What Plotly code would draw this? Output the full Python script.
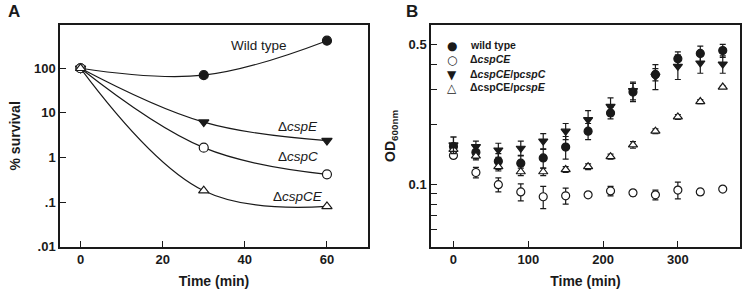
import numpy as np
import plotly.graph_objects as go

# Panel A: survival after cold shock
time_a = [0, 30, 60]
wild_type_a = [100, 70, 415]
csp_e_a = [100, 6.2, 2.4]
csp_c_a = [100, 1.66, 0.42]
csp_ce_a = [100, 0.18, 0.08]

# Panel B: growth (OD600) at low temperature
time_b = [0, 30, 60, 90, 120, 150, 180, 210, 240, 270, 300, 330, 360]
wt_b = [0.155, 0.145, 0.131, 0.128, 0.136, 0.154, 0.185, 0.228, 0.290, 0.355, 0.425, 0.452, 0.467]
wt_err = [0.018, 0.010, 0.012, 0.012, 0.015, 0.020, 0.017, 0.015, 0.030, 0.025, 0.035, 0.040, 0.035]
ce_b = [0.140, 0.115, 0.100, 0.092, 0.087, 0.088, 0.089, 0.093, 0.091, 0.089, 0.094, 0.092, 0.095]
ce_err = [0.004, 0.007, 0.008, 0.009, 0.011, 0.008, 0.002, 0.005, 0.003, 0.005, 0.009, 0.003, 0.002]
pc_b = [0.158, 0.155, 0.149, 0.152, 0.165, 0.185, 0.211, 0.246, 0.295, 0.348, 0.390, 0.405, 0.400]
pc_err = [0.015, 0.010, 0.012, 0.013, 0.015, 0.017, 0.023, 0.025, 0.030, 0.050, 0.055, 0.045, 0.040]
pe_b = [0.150, 0.139, 0.123, 0.116, 0.116, 0.119, 0.123, 0.138, 0.158, 0.185, 0.218, 0.260, 0.307]
pe_err = [0.005, 0.006, 0.006, 0.005, 0.005, 0.004, 0.004, 0.004, 0.006, 0.005, 0.006, 0.006, 0.004]

INK = "#1a1a1a"
FONT = "Liberation Sans"

fig = go.Figure()

# ---- panel A
series_a = [
    (wild_type_a, "circle", INK),
    (csp_e_a, "triangle-down", INK),
    (csp_c_a, "circle", "white"),
    (csp_ce_a, "triangle-up", "white"),
]
for ys, sym, fill in series_a:
    fig.add_trace(go.Scatter(
        x=time_a, y=ys, mode="lines+markers", xaxis="x", yaxis="y",
        line=dict(color=INK, width=1.2, shape="spline", smoothing=1.1),
        marker=dict(symbol=sym, size=9, color=fill, line=dict(color=INK, width=1.2)),
        showlegend=False,
    ))

# ---- panel B
series_b = [
    (wt_b, wt_err, "circle", INK),
    (pe_b, pe_err, "triangle-up", "white"),
    (ce_b, ce_err, "circle", "white"),
    (pc_b, pc_err, "triangle-down", INK),
]
for ys, err, sym, fill in series_b:
    fig.add_trace(go.Scatter(
        x=time_b, y=ys, mode="markers", xaxis="x2", yaxis="y2",
        error_y=dict(type="data", array=err, color=INK, thickness=1.2, width=3),
        marker=dict(symbol=sym, size=8, color=fill, line=dict(color=INK, width=1.2)),
        showlegend=False,
    ))

axis_common = dict(
    showline=True, mirror=True, linecolor=INK, linewidth=1.5,
    ticks="inside", ticklen=6, tickwidth=1.2, tickcolor=INK,
    showgrid=False, zeroline=False, automargin=False,
    tickfont=dict(family=FONT, size=13, color=INK, weight="bold"),
)
title_font = dict(family=FONT, size=14, color=INK, weight="bold")

fig.update_layout(
    width=750, height=290,
    margin=dict(l=0, r=0, t=0, b=0, autoexpand=False),
    paper_bgcolor="white", plot_bgcolor="white",
    xaxis=dict(axis_common, domain=[0.08, 0.4907], range=[-5, 70],
               tickvals=[0, 20, 40, 60],
               title=dict(text="Time (min)", font=title_font, standoff=10)),
    yaxis=dict(axis_common, domain=[0.1493, 0.9138], type="log", range=[-2, 2.97],
               tickvals=[0.01, 0.1, 1, 10, 100], ticktext=[".01", ".1", "1", "10", "100"],
               title=dict(text="% survival", font=title_font, standoff=10)),
    xaxis2=dict(axis_common, domain=[0.5747, 0.9866], range=[-30, 383], anchor="y2",
                tickvals=[0, 100, 200, 300],
                title=dict(text="Time (min)", font=title_font, standoff=10)),
    yaxis2=dict(axis_common, domain=[0.1493, 0.9138], type="log", anchor="x2",
                range=[np.log10(0.049), np.log10(0.627)],
                tickvals=[0.1, 0.5], ticktext=["0.1", "0.5"],
                minor=dict(tickvals=[0.06, 0.07, 0.08, 0.09, 0.2, 0.3, 0.4],
                           ticks="inside", ticklen=6, tickcolor=INK, tickwidth=1),
                title=dict(text="OD<sub>600nm</sub>", font=title_font, standoff=10)),
)

# curve labels in panel A
labels_a = [
    ("Wild type", 43.5, 2.52),
    ("Δ<i>cspE</i>", 53, 0.69),
    ("Δ<i>cspC</i>", 53, 0.02),
    ("Δ<i>cspCE</i>", 53, -0.88),
]
for txt, lx, ly in labels_a:
    fig.add_annotation(x=lx, y=ly, xref="x", yref="y", text=txt, showarrow=False,
                       font=dict(family=FONT, size=13.5, color=INK))

# legend of panel B
legend_rows = [
    ("●", "wild type"),
    ("○", "Δ<i>cspCE</i>"),
    ("▼", "Δ<i>cspCE</i>/p<i>cspC</i>"),
    ("△", "ΔcspCE/p<i>cspE</i>"),
]
row_y = [0.8724, 0.8231, 0.7724, 0.7266]
for (sym, txt), yy in zip(legend_rows, row_y):
    fig.add_annotation(x=0.6023, y=yy, xref="paper", yref="paper", text=sym,
                       showarrow=False, font=dict(family="DejaVu Sans", size=12, color=INK))
    fig.add_annotation(x=0.6236, y=yy, xref="paper", yref="paper", text=txt,
                       xanchor="left", showarrow=False,
                       font=dict(family=FONT, size=10.5, color=INK, weight="bold"))

# panel letters
for letter, px_ in [("A", 0.008), ("B", 0.538)]:
    fig.add_annotation(x=px_, y=1.0, xref="paper", yref="paper", text=letter,
                       xanchor="left", yanchor="top", showarrow=False,
                       font=dict(family=FONT, size=17, color=INK, weight="bold"))

# pin the page to exactly the figure size (no default body margin / overflow)
page_css = ("document.documentElement.style.cssText='margin:0;padding:0;overflow:hidden;height:290px';"
            "document.body.style.cssText='margin:0;padding:0;overflow:hidden;height:290px';")
fig.write_html("out.html", config={"displayModeBar": False}, post_script=page_css)
